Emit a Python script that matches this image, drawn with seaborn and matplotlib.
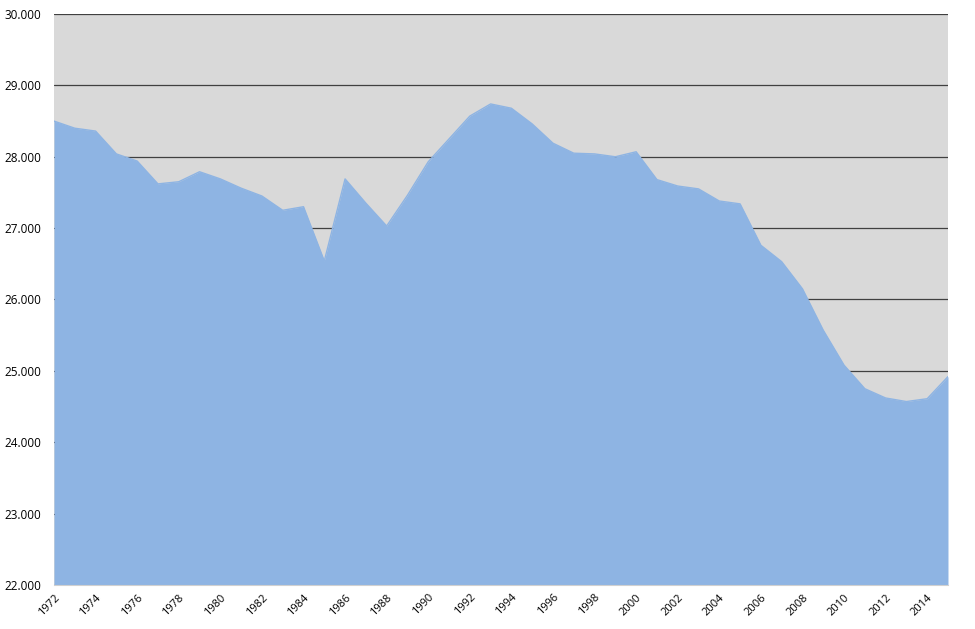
import matplotlib
matplotlib.use("Agg")
import matplotlib.pyplot as plt
import matplotlib.ticker as mticker
import pandas as pd
import seaborn as sns

###### Data

years = list(range(1972, 2016))
values = [28500, 28400, 28360, 28040, 27940, 27620, 27650, 27790, 27690, 27560,
          27450, 27250, 27300, 26540, 27690, 27350, 27030, 27460, 27930, 28250,
          28570, 28740, 28680, 28460, 28190, 28050, 28040, 28000, 28070, 27680,
          27590, 27550, 27380, 27340, 26760, 26530, 26150, 25570, 25080, 24750,
          24620, 24570, 24610, 24920]
y_ticks = [22000, 23000, 24000, 25000, 26000, 27000, 28000, 29000, 30000]
x_ticks = list(range(1972, 2015, 2))

df = pd.DataFrame({"year": years, "value": values})

###### Plot

sns.set_style("white")
plt.rcParams["font.family"] = ["Open Sans", "DejaVu Sans"]

fig = plt.figure(figsize=(9.75, 6.29), dpi=100)
ax = fig.add_axes([0.0554, 0.07, 0.9169, 0.9077])
ax.set_facecolor("#d9d9d9")

area_color = "#8eb4e3"
ax.fill_between(df["year"], 22000, df["value"], color=area_color, lw=0, zorder=2)
sns.lineplot(data=df, x="year", y="value", ax=ax, color=area_color, lw=1, zorder=3)

ax.set_xlim(1972, 2015)
ax.set_ylim(22000, 30000)
ax.set_yticks(y_ticks)
ax.set_xticks(x_ticks)
ax.yaxis.set_major_formatter(mticker.FuncFormatter(lambda v, p: f"{v:,.0f}".replace(",", ".")))
ax.grid(axis="y", color="#404040", lw=0.9, zorder=1)
ax.set_axisbelow(True)

for s in ["left", "right", "top"]:
    ax.spines[s].set_visible(False)
ax.spines["bottom"].set_color("#d0d0d0")

ax.tick_params(axis="y", length=0, labelsize=8.5, pad=9, labelcolor="black")
ax.tick_params(axis="x", length=4, color="#d0d0d0", labelsize=8, pad=1, labelcolor="black")
plt.setp(ax.get_xticklabels(), rotation=45, ha="right", rotation_mode="anchor")
ax.set_xlabel("")
ax.set_ylabel("")

fig.savefig("out.png", dpi=100)
